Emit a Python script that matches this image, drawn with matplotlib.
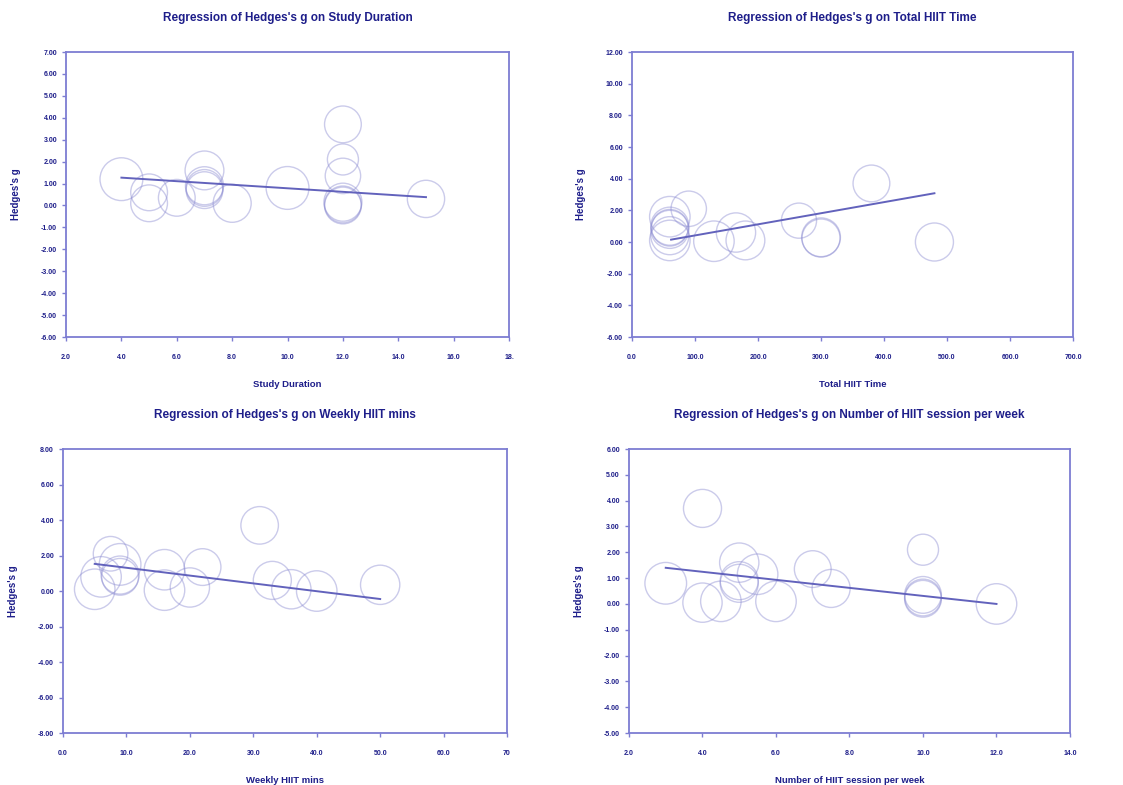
import numpy as np
import matplotlib
matplotlib.use('Agg')
from matplotlib import pyplot as plt

plt.rcParams['font.family'] = ['Liberation Sans', 'DejaVu Sans']

# Effect sizes (Hedges's g) read per panel, with relative weights
dur_x = [4, 5, 5, 6, 7, 7, 7, 7, 8, 10, 12, 12, 12, 12, 12, 12, 15]
dur_g = [1.2, 0.6, 0.1, 0.35, 1.6, 0.9, 0.8, 0.7, 0.1, 0.8, 3.7, 2.1, 1.35, 0.15, 0.05, 0.0, 0.3]
dur_w = [950, 700, 700, 700, 780, 750, 700, 700, 750, 950, 700, 500, 650, 750, 700, 700, 720]
dur_fit_x = [4, 15]
dur_fit_y = [1.27, 0.38]

tot_x = [60, 60, 60, 60, 60, 60, 90, 130, 165, 180, 265, 300, 300, 380, 480]
tot_g = [1.6, 1.0, 0.9, 0.8, 0.4, 0.1, 2.1, 0.05, 0.6, 0.1, 1.35, 0.3, 0.25, 3.7, 0.0]
tot_w = [850, 750, 700, 750, 750, 850, 650, 850, 800, 780, 640, 780, 750, 700, 750]
tot_fit_x = [62, 480]
tot_fit_y = [0.15, 3.08]

wk_x = [5, 6, 7.5, 9, 9, 9, 16, 16, 20, 22, 31, 33, 36, 40, 50]
wk_g = [0.1, 0.8, 2.1, 1.5, 0.9, 0.8, 1.2, 0.05, 0.2, 1.35, 3.7, 0.6, 0.1, 0.0, 0.35]
wk_w = [850, 850, 620, 900, 750, 700, 850, 850, 800, 700, 730, 750, 800, 850, 800]
wk_fit_x = [5, 50]
wk_fit_y = [1.53, -0.45]

ses_x = [3, 4, 4, 4.5, 5, 5, 5, 5.5, 6, 7, 7.5, 10, 10, 10, 10, 12]
ses_g = [0.8, 3.7, 0.05, 0.1, 1.6, 0.9, 0.8, 1.15, 0.1, 1.35, 0.6, 2.1, 0.35, 0.25, 0.2, 0.0]
ses_w = [900, 750, 800, 850, 800, 750, 750, 850, 850, 700, 750, 500, 700, 700, 700, 850]
ses_fit_x = [3, 12]
ses_fit_y = [1.4, 0.0]

navy = '#1e1e8a'
axis_col = '#7d7dd2'
line_col = '#6262bc'
circ_col = '#8c8cd2'

fig = plt.figure(figsize=(11.23, 7.85), dpi=100)

panels = [
    ([0.0588, 0.5707, 0.3945, 0.363], dur_x, dur_g, dur_w, dur_fit_x, dur_fit_y,
     (2, 18), np.arange(2, 18.1, 2), (-6, 7), np.arange(-6, 7.1, 1),
     "Regression of Hedges's g on Study Duration", 'Study Duration', '18.'),
    ([0.5628, 0.5707, 0.3927, 0.363], tot_x, tot_g, tot_w, tot_fit_x, tot_fit_y,
     (0, 700), np.arange(0, 701, 100), (-6, 12), np.arange(-6, 12.1, 2),
     "Regression of Hedges's g on Total HIIT Time", 'Total HIIT Time', None),
    ([0.0561, 0.0662, 0.3954, 0.3618], wk_x, wk_g, wk_w, wk_fit_x, wk_fit_y,
     (0, 70), np.arange(0, 70.1, 10), (-8, 8), np.arange(-8, 8.1, 2),
     "Regression of Hedges's g on Weekly HIIT mins", 'Weekly HIIT mins', '70'),
    ([0.5601, 0.0662, 0.3927, 0.3618], ses_x, ses_g, ses_w, ses_fit_x, ses_fit_y,
     (2, 14), np.arange(2, 14.1, 2), (-5, 6), np.arange(-5, 6.1, 1),
     "Regression of Hedges's g on Number of HIIT session per week", 'Number of HIIT session per week', None),
]

for rect, x, g, w, fx, fy, xl, xt, yl, yt, title, xlab, last in panels:
    ax = fig.add_axes(rect)
    ax.scatter(x, g, s=w, facecolors='none', edgecolors=circ_col, linewidths=1.0, alpha=0.45, zorder=2)
    ax.plot(fx, fy, color=line_col, linewidth=1.4, zorder=3)
    ax.set_xlim(*xl)
    ax.set_ylim(*yl)
    ax.set_xticks(xt)
    xlabels = ['%.1f' % v for v in xt]
    if last is not None:
        xlabels[-1] = last
    ax.set_xticklabels(xlabels)
    ax.set_yticks(yt)
    ax.set_yticklabels(['%.2f' % v for v in yt])
    for s in ax.spines.values():
        s.set_color(axis_col)
        s.set_linewidth(1.3)
    ax.tick_params(axis='both', colors=axis_col, length=3, width=1, direction='out',
                   labelcolor=navy, labelsize=5)
    ax.tick_params(axis='x', pad=9)
    for lab in ax.get_xticklabels() + ax.get_yticklabels():
        lab.set_fontweight('bold')
    ax.set_title(title, color=navy, fontsize=8.5, fontweight='bold', pad=22)
    ax.set_xlabel(xlab, color=navy, fontsize=6.8, fontweight='bold', labelpad=14)
    ax.set_ylabel("Hedges's g", color=navy, fontsize=7, fontweight='bold', labelpad=14)

fig.savefig('out.png', dpi=100, facecolor='white')
